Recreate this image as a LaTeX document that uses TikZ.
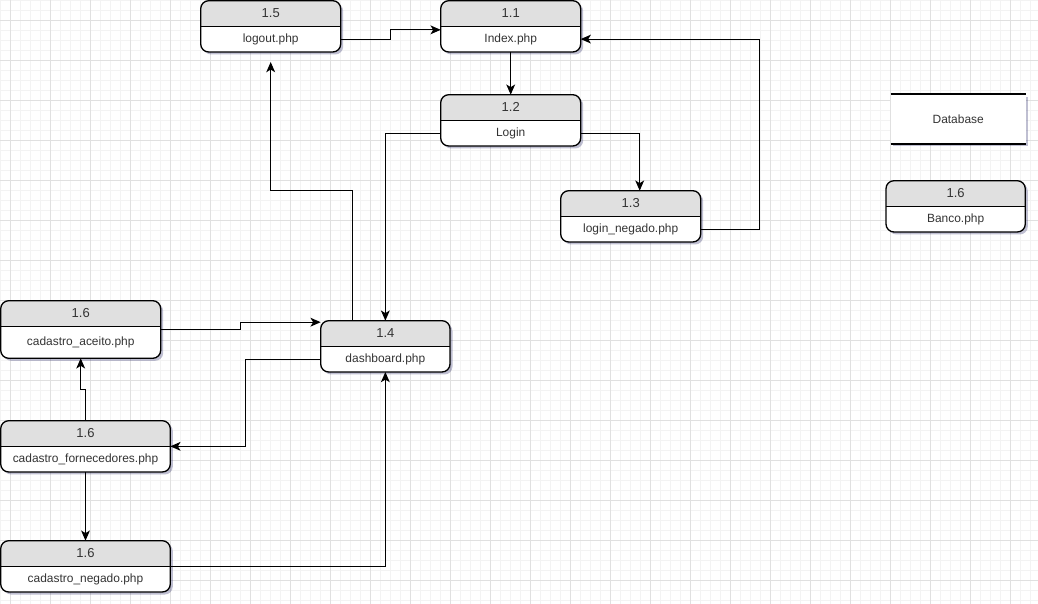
\documentclass[tikz,border=0pt]{standalone}
\usepackage{fontspec}
\setmainfont{Liberation Sans}
\usetikzlibrary{arrows.meta,calc,shadows}

\definecolor{headgray}{HTML}{E0E0E0}
\definecolor{gridmajor}{HTML}{E0E0E0}
\definecolor{gridminor}{HTML}{F3F3F3}
\definecolor{inkgray}{HTML}{333333}

\tikzset{
  pagebody/.style={rectangle, rounded corners=0.16cm, fill=white, inner sep=0pt, outer sep=0pt,
    drop shadow={shadow xshift=0.05cm, shadow yshift=-0.05cm, opacity=0.25, fill=black!70!blue}},
  pageline/.style={draw=black, line width=0.75pt},
  pagetext/.style={text=inkgray, font=\fontsize{6.8pt}{8pt}\selectfont, inner sep=0pt},
  headtext/.style={text=inkgray, font=\fontsize{7.4pt}{9pt}\selectfont, inner sep=0pt},
  dbstore/.style={rectangle, fill=white, inner sep=0pt, outer sep=0pt, pagetext,
    drop shadow={shadow xshift=0.05cm, shadow yshift=-0.05cm, opacity=0.25, fill=black!70!blue}},
  flow/.style={draw=black, line width=0.65pt, -{Stealth[length=5.8pt,width=5pt,inset=1.5pt]}},
}

% #1 name, #2 left, #3 top, #4 width, #5 height, #6 number, #7 file
\newcommand{\pagebox}[7]{%
  \node[pagebody, minimum width=#4*0.02cm, minimum height=#5*0.02cm, anchor=north west] (#1) at (#2,#3) {};
  \begin{scope}
    \clip[rounded corners=0.16cm] (#1.north west) rectangle (#1.south east);
    \fill[headgray] (#1.north west) rectangle ($(#1.north east)+(0,25.5)$);
  \end{scope}
  \draw[pageline] ($(#1.north west)+(0,25.5)$) -- ($(#1.north east)+(0,25.5)$);
  \draw[pageline, rounded corners=0.16cm] (#1.north west) rectangle (#1.south east);
  \path ($(#1.north)+(0,25.5)$) coordinate (#1-cut);
  \node[headtext] (#1-num) at ($(#1.north)+(0,12.7)$) {#6};
  \node[pagetext] (#1-file) at ($(#1-cut)!0.5!(#1.south)$) {#7};
}

\begin{document}
\begin{tikzpicture}[x=0.02cm, y=-0.02cm]
  \useasboundingbox (0,0) rectangle (1038,604);
  % background grid
  \fill[white] (0,0) rectangle (1038,604);
  \foreach \gx in {0,10,...,1030}
    \draw[gridminor, line width=0.55pt] (\gx,0) -- (\gx,604);
  \foreach \gy in {0,10,...,600}
    \draw[gridminor, line width=0.55pt] (0,\gy) -- (1038,\gy);
  \foreach \gx in {10,50,...,1010}
    \draw[gridmajor, line width=0.55pt] (\gx,0) -- (\gx,604);
  \foreach \gy in {20,60,...,580}
    \draw[gridmajor, line width=0.55pt] (0,\gy) -- (1038,\gy);

  % pages
  \pagebox{logout}{200.7}{0.7}{140}{51.3}{1.5}{logout.php}
  \pagebox{index}{440.7}{0.7}{140}{51.3}{1.1}{Index.php}
  \pagebox{login}{440.7}{94.7}{140}{51.3}{1.2}{Login}
  \pagebox{denied}{560.7}{190.7}{140}{51.3}{1.3}{login\_negado.php}
  \pagebox{banco}{886}{180.7}{139.3}{51.3}{1.6}{Banco.php}
  \pagebox{dash}{320.7}{320.7}{129.3}{51.3}{1.4}{dashboard.php}
  \pagebox{aceito}{0.7}{300.7}{160}{57.6}{1.6}{cadastro\_aceito.php}
  \pagebox{forn}{0.7}{420.7}{169.6}{51.3}{1.6}{cadastro\_fornecedores.php}
  \pagebox{negado}{0.7}{540.7}{169.6}{51.3}{1.6}{cadastro\_negado.php}

  % data store
  \node[dbstore, minimum width=135*0.02cm, minimum height=49.4*0.02cm, anchor=north west] (db) at (890.7,94.3) {Database};
  \draw[line width=1.3pt] (db.north west) -- (db.north east);
  \draw[line width=1.3pt] (db.south west) -- (db.south east);

  % flows
  \draw[flow] (logout.east |- logout-file) -- ++(50,0) |- ($(index.west)+(0,3.5)$);
  \draw[flow] (index.south) -- (login.north);
  \draw[flow] (login.west |- login-file) -| (dash.north);
  \draw[flow] (login.east |- login-file) -| ($(denied.north)+(9,0)$);
  \draw[flow] (denied.east |- denied-file) -- ++(59,0) |- (index.east |- index-file);
  \draw[flow, shorten >=0.2cm] ($(dash.north)+(-33,0)$) -- ++(0,-130) -| (logout.south);
  \draw[flow] (aceito.east) -- ++(79.5,0) |- ($(dash.north west)+(0,1.5)$);
  \draw[flow] (dash.west |- dash-file) -- ++(-75,0) |- (forn.east);
  \draw[flow] (forn.north) -- ++(0,-31) -| (aceito.south);
  \draw[flow] (forn.south) -- (negado.north);
  \draw[flow] (negado.east) -| (dash.south);
\end{tikzpicture}
\end{document}
